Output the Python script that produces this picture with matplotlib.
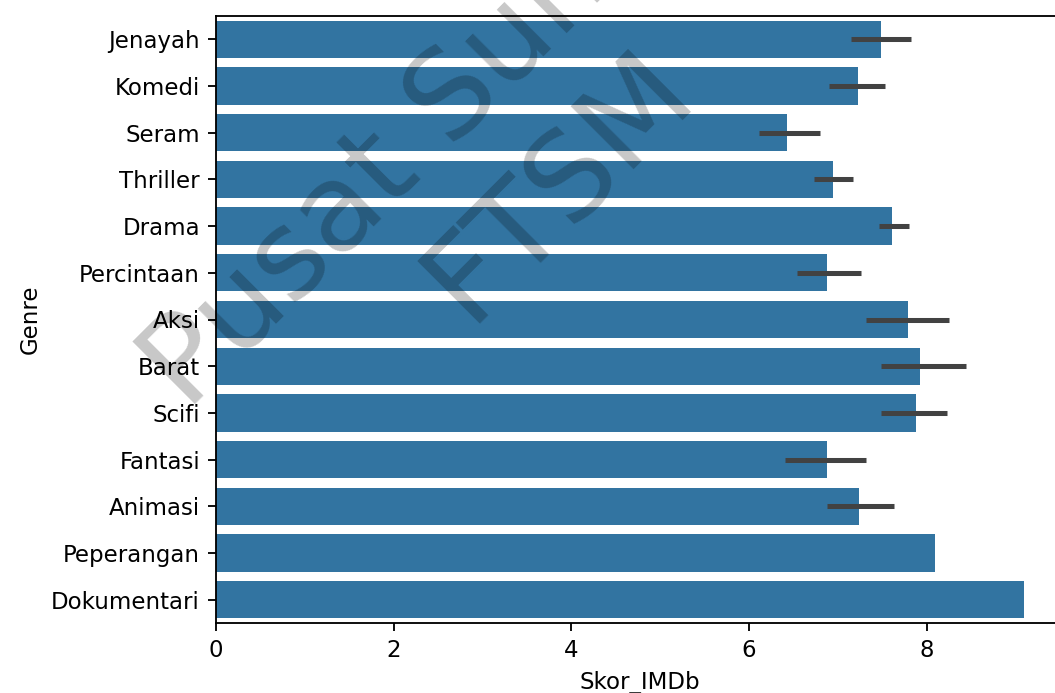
import numpy as np
import matplotlib
matplotlib.use("Agg")
import matplotlib.pyplot as plt

# mean IMDb score per genre, with 95% CI bounds (None = single film, no bar)
genres = ['Jenayah', 'Komedi', 'Seram', 'Thriller', 'Drama', 'Percintaan', 'Aksi',
          'Barat', 'Scifi', 'Fantasi', 'Animasi', 'Peperangan', 'Dokumentari']
skor = [7.48, 7.23, 6.43, 6.94, 7.61, 6.88, 7.79, 7.92, 7.88, 6.88, 7.24, 8.09, 9.09]
ci_low = [7.15, 6.90, 6.11, 6.73, 7.46, 6.54, 7.32, 7.49, 7.49, 6.40, 6.88, None, None]
ci_high = [7.82, 7.53, 6.80, 7.17, 7.80, 7.26, 8.25, 8.44, 8.23, 7.32, 7.63, None, None]

DPI = 165
fig = plt.figure(figsize=(1055 / DPI, 693 / DPI), dpi=DPI)
ax = fig.add_axes([216 / 1055, 70 / 693, (1064 - 216) / 1055, (623 - 16) / 693])

y = np.arange(len(genres))
ax.barh(y, skor, height=0.8, color='#3274a1', zorder=1)
for i in range(len(genres)):
	if ci_low[i] is not None:
		ax.plot([ci_low[i], ci_high[i]], [y[i], y[i]], color='.26', linewidth=2.2,
			solid_capstyle='butt', zorder=2)

ax.set_yticks(y)
ax.set_yticklabels(genres)
ax.set_ylim(len(genres) - 0.5, -0.5)
ax.set_xlim(0, max(skor) * 1.05)
ax.set_xticks([0, 2, 4, 6, 8])
ax.set_xlabel('Skor_IMDb')
ax.set_ylabel('Genre')

# watermark
fig.text(0.484, 0.801, 'Pusat Sumber\nFTSM', fontsize=53, color='black', alpha=0.22,
	ha='center', va='center', rotation=45, rotation_mode='anchor',
	multialignment='center', zorder=10)

fig.savefig('out.png', dpi=DPI)
